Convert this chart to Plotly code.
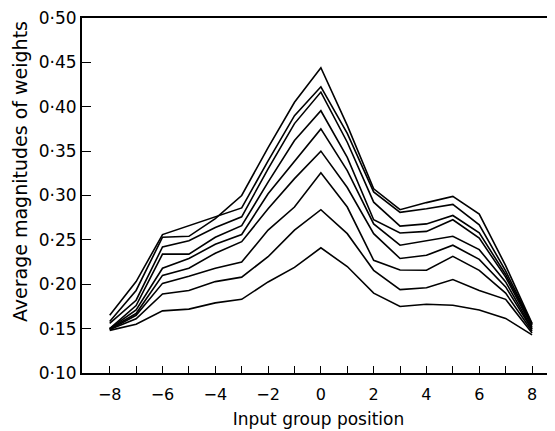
import plotly.graph_objects as go

positions = list(range(-8, 9))

line1 = [0.158, 0.193, 0.253, 0.254, 0.274, 0.300, 0.354, 0.405, 0.444, 0.379, 0.3075, 0.284, 0.292, 0.299, 0.279, 0.221, 0.156]
line2 = [0.165, 0.203, 0.256, 0.266, 0.276, 0.286, 0.339, 0.390, 0.4225, 0.370, 0.304, 0.281, 0.285, 0.290, 0.267, 0.215, 0.155]
line3 = [0.156, 0.182, 0.242, 0.249, 0.264, 0.276, 0.330, 0.381, 0.4165, 0.360, 0.2925, 0.2655, 0.268, 0.2775, 0.258, 0.211, 0.154]
line4 = [0.150, 0.176, 0.234, 0.234, 0.253, 0.266, 0.315, 0.362, 0.3955, 0.343, 0.2727, 0.2577, 0.2596, 0.2727, 0.252, 0.208, 0.152]
line5 = [0.150, 0.171, 0.218, 0.229, 0.245, 0.256, 0.302, 0.339, 0.375, 0.328, 0.268, 0.244, 0.249, 0.254, 0.239, 0.2026, 0.150]
line6 = [0.150, 0.167, 0.210, 0.218, 0.235, 0.248, 0.285, 0.319, 0.350, 0.309, 0.257, 0.229, 0.2326, 0.244, 0.228, 0.197, 0.149]
line7 = [0.149, 0.165, 0.201, 0.209, 0.218, 0.225, 0.261, 0.287, 0.3255, 0.287, 0.227, 0.216, 0.2157, 0.2315, 0.2157, 0.190, 0.147]
line8 = [0.149, 0.161, 0.189, 0.193, 0.203, 0.208, 0.231, 0.261, 0.284, 0.257, 0.2157, 0.194, 0.196, 0.2053, 0.193, 0.183, 0.145]
line9 = [0.148, 0.155, 0.170, 0.172, 0.179, 0.183, 0.2026, 0.219, 0.241, 0.220, 0.190, 0.175, 0.1775, 0.1764, 0.171, 0.1615, 0.143]

series = [line1, line2, line3, line4, line5, line6, line7, line8, line9]

x_tickvals = list(range(-8, 9))
x_ticktext = [("\u2212" + str(abs(v)) if v < 0 else str(v)) if v % 2 == 0 else "" for v in x_tickvals]
y_tickvals = [0.10, 0.15, 0.20, 0.25, 0.30, 0.35, 0.40, 0.45, 0.50]
y_ticktext = ["0\u00b710", "0\u00b715", "0\u00b720", "0\u00b725", "0\u00b730",
              "0\u00b735", "0\u00b740", "0\u00b745", "0\u00b750"]

fig = go.Figure()
for s in series:
    fig.add_trace(go.Scatter(x=positions, y=s, mode="lines",
                             line=dict(color="black", width=1.6),
                             showlegend=False, hoverinfo="skip"))

font_family = "DejaVu Sans, Liberation Sans, sans-serif"
# page body has an 8px default margin; figure sized to fit the 555x431 window
fig.update_layout(
    width=547, height=423,
    margin=dict(l=74, r=0, t=8, b=58),
    paper_bgcolor="white", plot_bgcolor="white",
    font=dict(family=font_family, color="black", size=16),
)
fig.update_xaxes(
    range=[-9.05, 8.87],
    tickvals=x_tickvals, ticktext=x_ticktext,
    ticks="inside", ticklen=7, tickwidth=1.2, tickcolor="black",
    showline=True, linecolor="black", linewidth=2, mirror=True,
    showgrid=False, zeroline=False,
    tickfont=dict(size=16), ticklabelstandoff=6,
    title=dict(text="Input group position", font=dict(size=17), standoff=10),
)
fig.update_yaxes(
    range=[0.10, 0.50],
    tickvals=y_tickvals, ticktext=y_ticktext,
    ticks="inside", ticklen=9, tickwidth=1.2, tickcolor="black",
    showline=True, linecolor="black", linewidth=2, mirror=False,
    showgrid=False, zeroline=False,
    tickfont=dict(size=17), ticklabeloverflow="allow",
)
fig.add_annotation(
    text="Average magnitudes of weights", textangle=-90,
    xref="paper", yref="paper", x=-0.131, y=0.566,
    xanchor="center", yanchor="middle", showarrow=False,
    font=dict(size=19, family=font_family, color="black"),
)

fig.write_html("out.html")
